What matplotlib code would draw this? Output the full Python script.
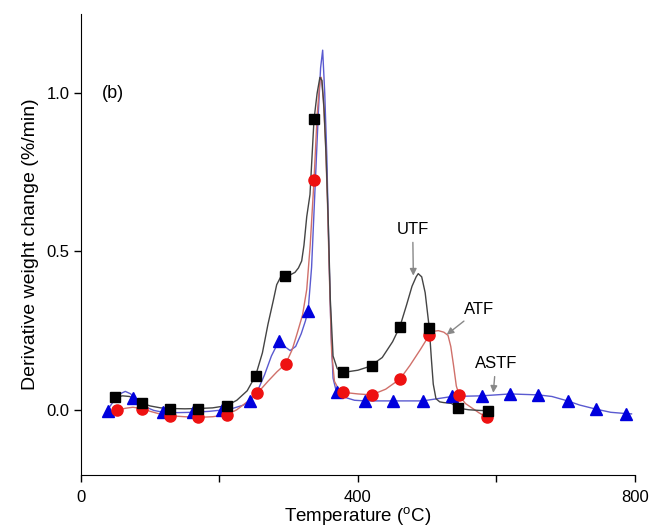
import matplotlib
matplotlib.use("Agg")
import matplotlib.pyplot as plt

plt.rcParams['font.family'] = ['Liberation Sans', 'DejaVu Sans']
plt.rcParams['mathtext.fontset'] = 'custom'
plt.rcParams['mathtext.rm'] = 'Liberation Sans'

# traced curves (temperature in C, DTG in %/min)
utf_x = [49, 60, 70, 80, 87.6, 100, 115, 128.5, 150, 169.4, 190, 210.4, 225, 240,
         252.2, 262, 270, 277.7, 282.6, 288, 294.6, 302, 309, 314, 318.7, 322, 326,
         330.7, 336.5, 341, 345, 348, 351, 354, 357, 360, 364, 370, 378.8, 400, 417,
         435, 450, 460.6, 470, 478, 484, 487, 492, 497, 503, 506, 508.7, 512.6, 518,
         523, 535, 545, 560, 575, 587.6]
utf_y = [0.039, 0.044, 0.042, 0.032, 0.021, 0.012, 0.006, 0.004, 0.003, 0.004, 0.006,
         0.013, 0.03, 0.06, 0.108, 0.18, 0.27, 0.345, 0.395, 0.418, 0.424, 0.426,
         0.434, 0.448, 0.47, 0.52, 0.61, 0.68, 0.917, 1.0, 1.05, 1.04, 0.95, 0.8, 0.6,
         0.35, 0.17, 0.13, 0.118, 0.125, 0.137, 0.165, 0.215, 0.263, 0.33, 0.39, 0.42,
         0.43, 0.42, 0.37, 0.257, 0.16, 0.081, 0.035, 0.025, 0.023, 0.02, 0.005, 0.0,
         -0.002, -0.003]

atf_x = [51.5, 65, 75, 87.6, 100, 115, 128.5, 150, 169.4, 190, 210.4, 225, 240, 254.6,
         270, 283, 295.6, 305, 312, 320, 326, 331, 336.5, 341, 345, 347, 350, 353, 356,
         359, 362, 366, 372, 378.8, 400, 419.7, 440, 460.6, 475, 490, 503, 510, 516,
         524, 530, 534, 538, 542, 546, 555, 565, 575, 586.7]
atf_y = [-0.001, 0.005, 0.008, 0.004, -0.005, -0.014, -0.019, -0.022, -0.024, -0.022,
         -0.016, 0.0, 0.025, 0.052, 0.09, 0.12, 0.145, 0.19, 0.24, 0.3, 0.38, 0.52,
         0.725, 0.93, 1.04, 1.05, 0.98, 0.85, 0.65, 0.4, 0.18, 0.09, 0.065, 0.055, 0.05,
         0.047, 0.065, 0.097, 0.14, 0.19, 0.236, 0.248, 0.25, 0.245, 0.235, 0.2, 0.14,
         0.075, 0.047, 0.02, 0.005, -0.01, -0.024]

astf_x = [39.4, 48, 56, 64, 72, 75.5, 90, 105, 118.8, 140, 162, 185, 203, 220, 235, 244,
          255, 265, 275, 286, 294, 302, 310, 318, 324, 328, 333, 338, 343, 346, 349, 352,
          355, 358, 361, 364, 369, 380, 395, 410, 451, 493.4, 536, 578.6, 619.5, 660.4,
          680, 702.7, 720, 743.7, 765, 787, 795]
astf_y = [0.003, 0.03, 0.05, 0.058, 0.05, 0.038, 0.012, -0.002, -0.008, -0.009, -0.008,
          -0.005, -0.001, 0.005, 0.015, 0.028, 0.06, 0.11, 0.17, 0.218, 0.2, 0.187, 0.2,
          0.24, 0.28, 0.313, 0.45, 0.7, 0.95, 1.08, 1.136, 1.0, 0.8, 0.5, 0.25, 0.1,
          0.055, 0.04, 0.03, 0.028, 0.028, 0.028, 0.042, 0.044, 0.05, 0.047, 0.042,
          0.028, 0.015, 0.002, -0.008, -0.012, -0.013]

# marker positions
utf_mx = [49, 87.6, 128.5, 169.4, 210.4, 252.2, 294.6, 336.5, 378.8, 419.7, 460.6, 503,
          545, 587.6]
utf_my = [0.039, 0.021, 0.004, 0.004, 0.013, 0.108, 0.424, 0.917, 0.118, 0.137, 0.263,
          0.257, 0.005, -0.003]
atf_mx = [51.5, 87.6, 128.5, 169.4, 210.4, 254.6, 295.6, 336.5, 378.8, 419.7, 460.6, 503,
          546, 586.7]
atf_my = [-0.001, 0.004, -0.019, -0.024, -0.016, 0.052, 0.145, 0.725, 0.055, 0.047, 0.097,
          0.236, 0.047, -0.024]
astf_mx = [39.4, 75.5, 118.8, 162, 203, 244, 286, 328, 369, 410, 451, 493.4, 536, 578.6,
           619.5, 660.4, 702.7, 743.7, 787]
astf_my = [-0.003, 0.036, -0.008, -0.008, -0.001, 0.028, 0.218, 0.313, 0.055, 0.028, 0.028,
           0.028, 0.042, 0.044, 0.05, 0.047, 0.028, 0.002, -0.012]

fig = plt.figure(figsize=(6.51, 5.31), dpi=100)
ax = fig.add_axes([0.1244, 0.1055, 0.851, 0.868])

ax.plot(astf_x, astf_y, color='#5a5ad0', lw=1.0)
ax.plot(atf_x, atf_y, color='#d0706a', lw=1.0)
ax.plot(utf_x, utf_y, color='#444444', lw=1.0)
ax.plot(astf_mx, astf_my, '^', color='#0000dd', ms=8, ls='none')
ax.plot(atf_mx, atf_my, 'o', color='#ee1111', ms=8, ls='none')
ax.plot(utf_mx, utf_my, 's', color='black', ms=7, ls='none')

arrow = dict(arrowstyle='-|>', color='#888888', lw=1.0, mutation_scale=10)
ax.annotate('UTF', xy=(480, 0.415), xytext=(479, 0.57), ha='center', va='center',
            fontsize=12, arrowprops=arrow)
ax.annotate('ATF', xy=(525, 0.232), xytext=(575, 0.318), ha='center', va='center',
            fontsize=12, arrowprops=arrow)
ax.annotate('ASTF', xy=(595, 0.045), xytext=(599, 0.146), ha='center', va='center',
            fontsize=12, arrowprops=arrow)
ax.text(30, 1.0, '(b)', fontsize=13, ha='left', va='center')

ax.set_xlim(0, 800)
ax.set_ylim(-0.206, 1.25)
ax.set_xticks([0, 200, 400, 600, 800])
ax.set_xticklabels(['0', '', '400', '', '800'])
ax.set_yticks([0.0, 0.5, 1.0])
ax.set_yticklabels(['0.0', '0.5', '1.0'])
ax.tick_params(direction='out', length=5, width=1, labelsize=12, pad=3)
ax.tick_params(axis='x', pad=6)
for s in ['top', 'right']:
    ax.spines[s].set_visible(False)
ax.set_xlabel('Temperature ($^{\\mathrm{o}}$C)', fontsize=13.5, labelpad=0)
ax.set_ylabel('Derivative weight change (%/min)', fontsize=14, labelpad=6)

fig.savefig('out.png', dpi=100)
